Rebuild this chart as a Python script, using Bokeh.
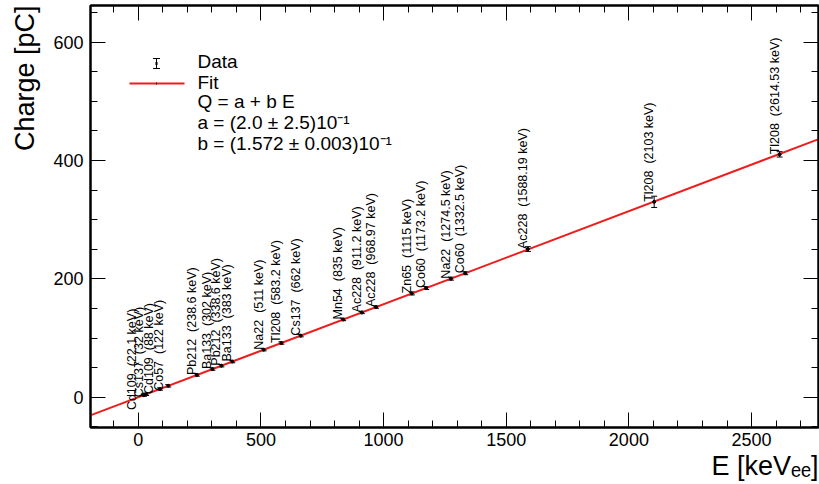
import numpy as np
from bokeh.plotting import figure
from bokeh.models import (ColumnDataSource, Whisker, TeeHead, Arrow, Label, Title,
                          LinearAxis, SingleIntervalTicker, Range1d)
from bokeh.core.properties import value
from bokeh.embed import file_html
from bokeh.resources import INLINE

# ---------------- data ----------------
isotopes = ["Cd109", "Cs137", "Cd109", "Co57", "Pb212", "Ba133", "Pb212", "Ba133",
            "Na22", "Tl208", "Cs137", "Mn54", "Ac228", "Ac228", "Zn65", "Co60",
            "Na22", "Co60", "Ac228", "Tl208", "Tl208"]
energy_text = ["22.1", "32", "88", "122", "238.6", "302", "338.6", "383", "511",
               "583.2", "662", "835", "911.2", "968.97", "1115", "1173.2", "1274.5",
               "1332.5", "1588.19", "2103", "2614.53"]
energy = [22.1, 32, 88, 122, 238.6, 302, 338.6, 383, 511, 583.2, 662, 835, 911.2,
          968.97, 1115, 1173.2, 1274.5, 1332.5, 1588.19, 2103, 2614.53]
charge = [3.7, 5.2, 14.0, 19.4, 37.7, 47.7, 53.4, 60.4, 80.5, 91.8, 104.2, 131.5,
          143.4, 152.5, 175.5, 184.6, 200.5, 209.7, 250.5, 330.3, 410.5]
charge_err = [2.0, 2.0, 2.0, 2.0, 2.0, 2.0, 2.0, 2.0, 2.0, 2.0, 2.0, 2.0, 2.0, 2.0,
              2.5, 2.5, 2.5, 2.5, 4.0, 9.5, 4.5]
fit_a = 0.20      # pC
fit_b = 0.1572    # pC / keV
fit_range = [-200.0, 2800.0]

# label placement tweaks (screen pixels) for the crowded low-energy labels
label_dx = [-7, -2, -6, -4] + [0] * 17
label_dy = [15, 3, 5, 5] + [0] * 17
LABEL_SHIFT_X = -5   # common shift that puts each label just left of its point

FONT = "Liberation Sans"
NB2 = "\u00a0\u00a0"

src = ColumnDataSource(dict(
    E=energy, Q=charge,
    up=[q + e for q, e in zip(charge, charge_err)],
    lo=[q - e for q, e in zip(charge, charge_err)],
    label=[f"{n}{NB2}({t}\u00a0keV)" for n, t in zip(isotopes, energy_text)],
    dx=[d + LABEL_SHIFT_X for d in label_dx], dy=label_dy,
))

p = figure(width=819, height=484, output_backend="svg", toolbar_location=None,
           x_range=Range1d(-195, 2773), y_range=Range1d(-51, 662),
           min_border_left=89, min_border_right=1, min_border_top=5,
           min_border_bottom=57)
p.xgrid.visible = False
p.ygrid.visible = False
p.outline_line_color = "black"
p.outline_line_width = 2
p.background_fill_color = "white"
p.border_fill_color = "white"


def style_axis(ax, interval, nminor, labels=True):
    ax.ticker = SingleIntervalTicker(interval=interval, num_minor_ticks=nminor)
    ax.axis_line_color = "black"
    ax.axis_line_width = 2
    ax.major_tick_in = 15
    ax.major_tick_out = 0
    ax.minor_tick_in = 7
    ax.minor_tick_out = 0
    ax.major_tick_line_color = "black"
    ax.minor_tick_line_color = "black"
    ax.major_tick_line_width = 1
    ax.minor_tick_line_width = 1
    ax.major_label_text_font = FONT
    ax.major_label_text_font_size = "18px"
    ax.major_label_text_color = "black"
    if not labels:
        ax.major_label_text_font_size = "0px"
        ax.major_label_standoff = 0
        ax.major_label_text_alpha = 0


style_axis(p.xaxis[0], 500, 5)
p.xaxis[0].major_label_standoff = 5
style_axis(p.yaxis[0], 200, 4)
p.yaxis[0].major_label_standoff = 7

top_ax = LinearAxis()
style_axis(top_ax, 500, 5, labels=False)
p.add_layout(top_ax, "above")
right_ax = LinearAxis()
style_axis(right_ax, 200, 4, labels=False)
p.add_layout(right_ax, "right")

# axis titles
ytitle = Title(text="Charge [pC]", align="right", text_font=FONT,
               text_font_size="27px", text_font_style="normal", text_color="black",
               standoff=18, vertical_align="top")
p.add_layout(ytitle, "left")
xtitle = Title(text="E [keV\u2091\u2091]", align="right", text_font=FONT,
               text_font_size="27px", text_font_style="normal", text_color="black",
               standoff=0)
p.add_layout(xtitle, "below")

# fit line
fx = np.array(fit_range)
p.line(fx, fit_a + fit_b * fx, line_color="#ee1c1c", line_width=2)

# data with error bars
p.add_layout(Whisker(source=src, base="E", upper="up", lower="lo", dimension="height",
                     line_color="black", line_width=1,
                     upper_head=TeeHead(size=6, line_color="black", line_width=1),
                     lower_head=TeeHead(size=6, line_color="black", line_width=1)))
p.scatter("E", "Q", source=src, size=3, color="black")

# isotope labels
p.text(x="E", y="Q", text="label", source=src, angle=np.pi / 2,
       text_align="left", text_baseline="alphabetic",
       text_font=value(FONT), text_font_size=value("12.5px"), text_color="black",
       x_offset="dx", y_offset="dy")

# ---------------- legend (frame-relative screen units) ----------------
p.add_layout(Arrow(x_start=66, y_start=359, x_end=66, y_end=369,
                   start_units="screen", end_units="screen",
                   start=TeeHead(size=7, line_color="black", line_width=1),
                   end=TeeHead(size=7, line_color="black", line_width=1),
                   line_color="black", line_width=1))
p.add_layout(Arrow(x_start=65, y_start=364, x_end=67, y_end=364,
                   start_units="screen", end_units="screen", end=None,
                   line_color="black", line_width=3))
p.add_layout(Arrow(x_start=39, y_start=344, x_end=94, y_end=344,
                   start_units="screen", end_units="screen", end=None,
                   line_color="#ee1c1c", line_width=2))
p.add_layout(Arrow(x_start=65.5, y_start=344, x_end=66.5, y_end=344,
                   start_units="screen", end_units="screen", end=None,
                   line_color="black", line_width=2))

legend_lines = ["Data", "Fit", "Q = a + b E", "a = (2.0 \u00b1 2.5)10\u207b\u00b9",
                "b = (1.572 \u00b1 0.003)10\u207b\u00b9"]
legend_base = [366, 345, 326, 305, 284]
for t, yb in zip(legend_lines, legend_base):
    p.add_layout(Label(x=107, y=yb, x_units="screen", y_units="screen", text=t,
                       text_font=FONT, text_font_size="19px", text_color="black",
                       text_baseline="alphabetic", text_align="left"))

open("out.html", "w").write(file_html(p, INLINE))
